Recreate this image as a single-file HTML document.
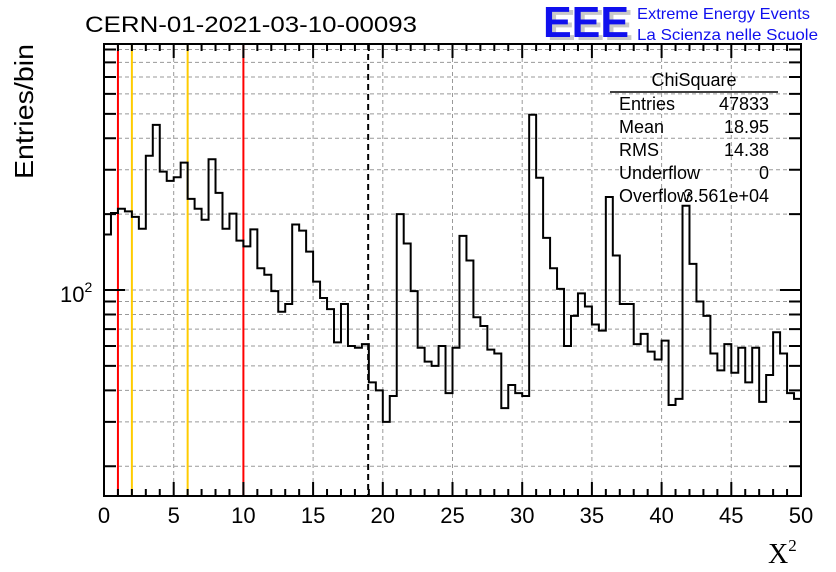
<!DOCTYPE html>
<html><head><meta charset="utf-8"><style>
body{margin:0;background:#fff}
svg{display:block}
text{font-family:"Liberation Sans",sans-serif}
</style></head><body>
<svg id="c" width="836" height="572" viewBox="0 0 836 572" xmlns="http://www.w3.org/2000/svg">
<rect width="836" height="572" fill="#fff"/>
<g id="grid"></g>
<g id="lines"></g>
<path id="hist" fill="none" stroke="#000" stroke-width="2"/>
<rect x="104" y="44" width="697" height="452" fill="none" stroke="#000" stroke-width="2"/>
<g id="ticks"></g>
<text x="85" y="32" font-size="22" textLength="332" lengthAdjust="spacingAndGlyphs">CERN-01-2021-03-10-00093</text>
<g>
<text x="547" y="40" font-size="44" font-weight="bold" fill="#c8c8c8" textLength="86" lengthAdjust="spacingAndGlyphs">EEE</text>
<text x="543" y="37" font-size="44" font-weight="bold" fill="#1010ee" textLength="86" lengthAdjust="spacingAndGlyphs">EEE</text>
<text x="637" y="19" font-size="16" fill="#1010ee" textLength="173" lengthAdjust="spacingAndGlyphs">Extreme Energy Events</text>
<text x="637" y="40" font-size="16" fill="#1010ee" textLength="181" lengthAdjust="spacingAndGlyphs">La Scienza nelle Scuole</text>
</g>
<text transform="translate(33,179) rotate(-90)" font-size="26" textLength="135" lengthAdjust="spacingAndGlyphs">Entries/bin</text>
<text x="768" y="563" font-size="28" style="font-family:'Liberation Serif',serif">X<tspan font-size="17" dy="-12">2</tspan></text>
<text x="60" y="302" font-size="22">10<tspan font-size="14" dy="-10">2</tspan></text>
<g font-size="18">
<text x="694" y="86" text-anchor="middle">ChiSquare</text>
<line x1="610" y1="92" x2="778" y2="92" stroke="#000" stroke-width="1.5"/>
<text x="619" y="110">Entries</text><text x="769" y="110" text-anchor="end">47833</text>
<text x="619" y="133">Mean</text><text x="769" y="133" text-anchor="end">18.95</text>
<text x="619" y="156">RMS</text><text x="769" y="156" text-anchor="end">14.38</text>
<text x="619" y="179">Underflow</text><text x="769" y="179" text-anchor="end">0</text>
<text x="619" y="202">Overflow</text><text x="769" y="202" text-anchor="end">3.561e+04</text>
</g>
</svg>
<script>
const counts=[166,202,210,205,195,175,341,452,295,271,280,320,230,210,190,330,243,175,201,157,
149,174,122,115,99,82,88,182,172,142,108,93,84,62,88,60,59,61,43,40,
30,38,200,153,99,59,52,50,60,39,59,164,131,78,72,58,56,34,42,39,
38,496,279,161,122,101,60,79,97,86,73,69,234,137,88,88,61,67,57,53,
63,35,37,216,127,90,79,56,48,61,47,59,43,59,36,46,68,56,39,37];
const xTicks=[0,5,10,15,20,25,30,35,40,45,50];
const cutLines=[{x:1,c:"#ff0000"},{x:2,c:"#ffcc00"},{x:6,c:"#ffcc00"},{x:10,c:"#ff0000"}];
const meanValue=18.95;
const xMin=0,xMax=50,yMin=15.24,yMax=946;
const L=104,R=801,T=44,B=496;
const NS="http://www.w3.org/2000/svg";
function X(v){return L+(v-xMin)/(xMax-xMin)*(R-L);}
function Y(v){return B-(Math.log10(v)-Math.log10(yMin))/(Math.log10(yMax)-Math.log10(yMin))*(B-T);}
function el(t,a,p){const e=document.createElementNS(NS,t);for(const k in a)e.setAttribute(k,a[k]);p.appendChild(e);return e;}
const grid=document.getElementById('grid'),ticks=document.getElementById('ticks'),lines=document.getElementById('lines');
const yMinor=[20,30,40,50,60,70,80,90,100,200,300,400,500,600,700,800,900];
yMinor.forEach(v=>{const y=Y(v);
 const g=el('line',{x1:L,x2:R,y1:y,y2:y,stroke:'#999','stroke-dasharray':'4,3','stroke-width':1},grid);
 
 const len=v===100?21:12;
 const t=el('path',{d:`M${L} ${y}h${len}M${R} ${y}h${-len}`,stroke:'#000','stroke-width':2},ticks);
 
});
xTicks.forEach(v=>{const x=X(v);
 if(v>xMin&&v<xMax){const g=el('line',{x1:x,x2:x,y1:T,y2:B,stroke:'#999','stroke-dasharray':'4,3','stroke-width':1},grid);
 }
 const t=el('text',{x:x,y:523,'font-size':22,'text-anchor':'middle'},ticks);t.textContent=v;
 
});
for(let v=xMin;v<=xMax;v++){const x=X(v);const len=v%5===0?14:7;
 const t=el('path',{d:`M${x} ${B}v${-len}M${x} ${T}v${len}`,stroke:'#000','stroke-width':2},ticks);
 }
cutLines.forEach(c=>{const l=el('line',{x1:X(c.x),x2:X(c.x),y1:T,y2:B,stroke:c.c,'stroke-width':2},lines);
 });
const m=el('line',{x1:X(meanValue),x2:X(meanValue),y1:T,y2:B,stroke:'#000','stroke-width':2,'stroke-dasharray':'6,4'},lines);

const bw=(xMax-xMin)/counts.length;
let d=`M${X(xMin)} ${Y(counts[0])}`;
counts.forEach((c,i)=>{const y=Y(c);d+=`V${y}H${X(xMin+(i+1)*bw)}`;});
document.getElementById('hist').setAttribute('d',d);
</script>
</body></html>
